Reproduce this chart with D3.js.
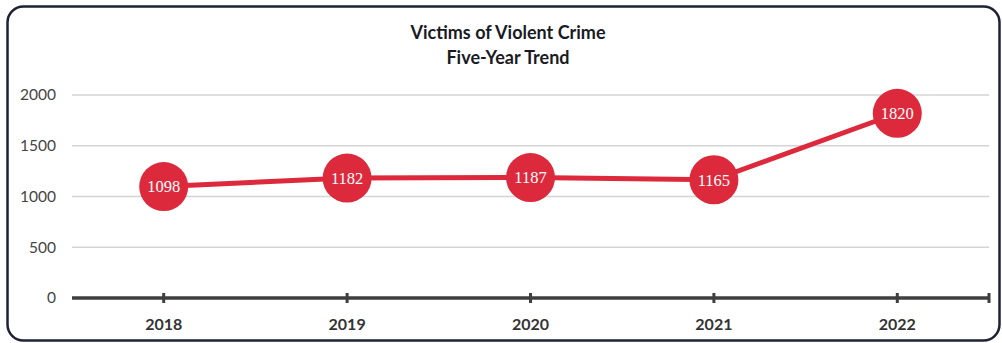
<!DOCTYPE html>
<html>
<head>
<meta charset="utf-8">
<script src="https://cdn.jsdelivr.net/npm/d3@7"></script>
<style>
  html, body { margin: 0; padding: 0; background: #fff; }
  svg { display: block; }
</style>
</head>
<body>
<svg id="chart" width="1002" height="343"></svg>
<script>
// Victims of violent crime by year
const years = ["2018", "2019", "2020", "2021", "2022"];
const victims = [1098, 1182, 1187, 1165, 1820];
const yTicks = [0, 500, 1000, 1500, 2000];
const titleLines = ["Victims of Violent Crime", "Five-Year Trend"];

const svg = d3.select("#chart");

// Rounded outer frame
svg.append("rect")
  .attr("x", 7.5).attr("y", 6.5)
  .attr("width", 992).attr("height", 334)
  .attr("rx", 16).attr("ry", 16)
  .attr("fill", "#fff")
  .attr("stroke", "#1e2233").attr("stroke-width", 2.5);

const x = d3.scaleBand().domain(years).range([72, 989]);
const y = d3.scaleLinear().domain([0, 2000]).range([298, 95]);

// Title
svg.append("g").selectAll("text").data(titleLines).join("text")
  .attr("x", 508).attr("y", (d, i) => 39 + i * 25)
  .attr("text-anchor", "middle")
  .attr("font-family", "Lato, 'Open Sans', sans-serif")
  .attr("font-weight", "bold").attr("font-size", 18)
  .attr("fill", "#1a1a24")
  .text(d => d);

// Gridlines + y tick labels
const yAxis = d3.axisLeft(y).tickValues(yTicks).tickFormat(d3.format("d")).tickSize(0).tickPadding(0);
const gy = svg.append("g").attr("transform", "translate(56,0)").call(yAxis);
gy.select(".domain").remove();
gy.selectAll("text")
  .attr("font-family", "Lato, 'Open Sans', sans-serif")
  .attr("font-size", 15.5).attr("fill", "#444");

svg.append("g").selectAll("line").data(yTicks.filter(d => d > 0)).join("line")
  .attr("x1", 72).attr("x2", 989)
  .attr("y1", d => y(d)).attr("y2", d => y(d))
  .attr("stroke", "#d4d4d4").attr("stroke-width", 1.5);

// X axis
const xAxis = d3.axisBottom(x).tickSize(0).tickPadding(0);
const gx = svg.append("g").attr("transform", `translate(0,${y(0)})`).call(xAxis);
gx.select(".domain").remove();
gx.selectAll("text")
  .attr("dy", 0).attr("y", 32)
  .attr("font-family", "Lato, 'Open Sans', sans-serif")
  .attr("font-weight", "bold").attr("font-size", 16).attr("fill", "#333");

svg.append("line")
  .attr("x1", 72).attr("x2", 989)
  .attr("y1", y(0)).attr("y2", y(0))
  .attr("stroke", "#3f3f3f").attr("stroke-width", 3.5);
const tickPos = years.map(d => x(d) + x.bandwidth() / 2).concat([989]);
svg.append("g").selectAll("line").data(tickPos).join("line")
  .attr("x1", d => d).attr("x2", d => d)
  .attr("y1", y(0) - 5).attr("y2", y(0) + 5)
  .attr("stroke", "#3f3f3f").attr("stroke-width", 3);

// Line
const cx = d => x(d) + x.bandwidth() / 2;
const data = years.map((d, i) => ({ year: d, v: victims[i] }));
svg.append("path").datum(data)
  .attr("fill", "none")
  .attr("stroke", "#dc2a3c").attr("stroke-width", 5)
  .attr("d", d3.line().x(d => cx(d.year)).y(d => y(d.v)));

// Markers with values
const pts = svg.append("g").selectAll("g").data(data).join("g")
  .attr("transform", d => `translate(${cx(d.year)},${y(d.v)})`);
pts.append("circle").attr("r", 24.5).attr("fill", "#dc2a3c");
pts.append("text")
  .attr("text-anchor", "middle").attr("dy", "0.35em")
  .attr("font-family", "'Liberation Serif', 'DejaVu Serif', serif")
  .attr("font-size", 16.5).attr("fill", "#fff")
  .text(d => d.v);
</script>
</body>
</html>
